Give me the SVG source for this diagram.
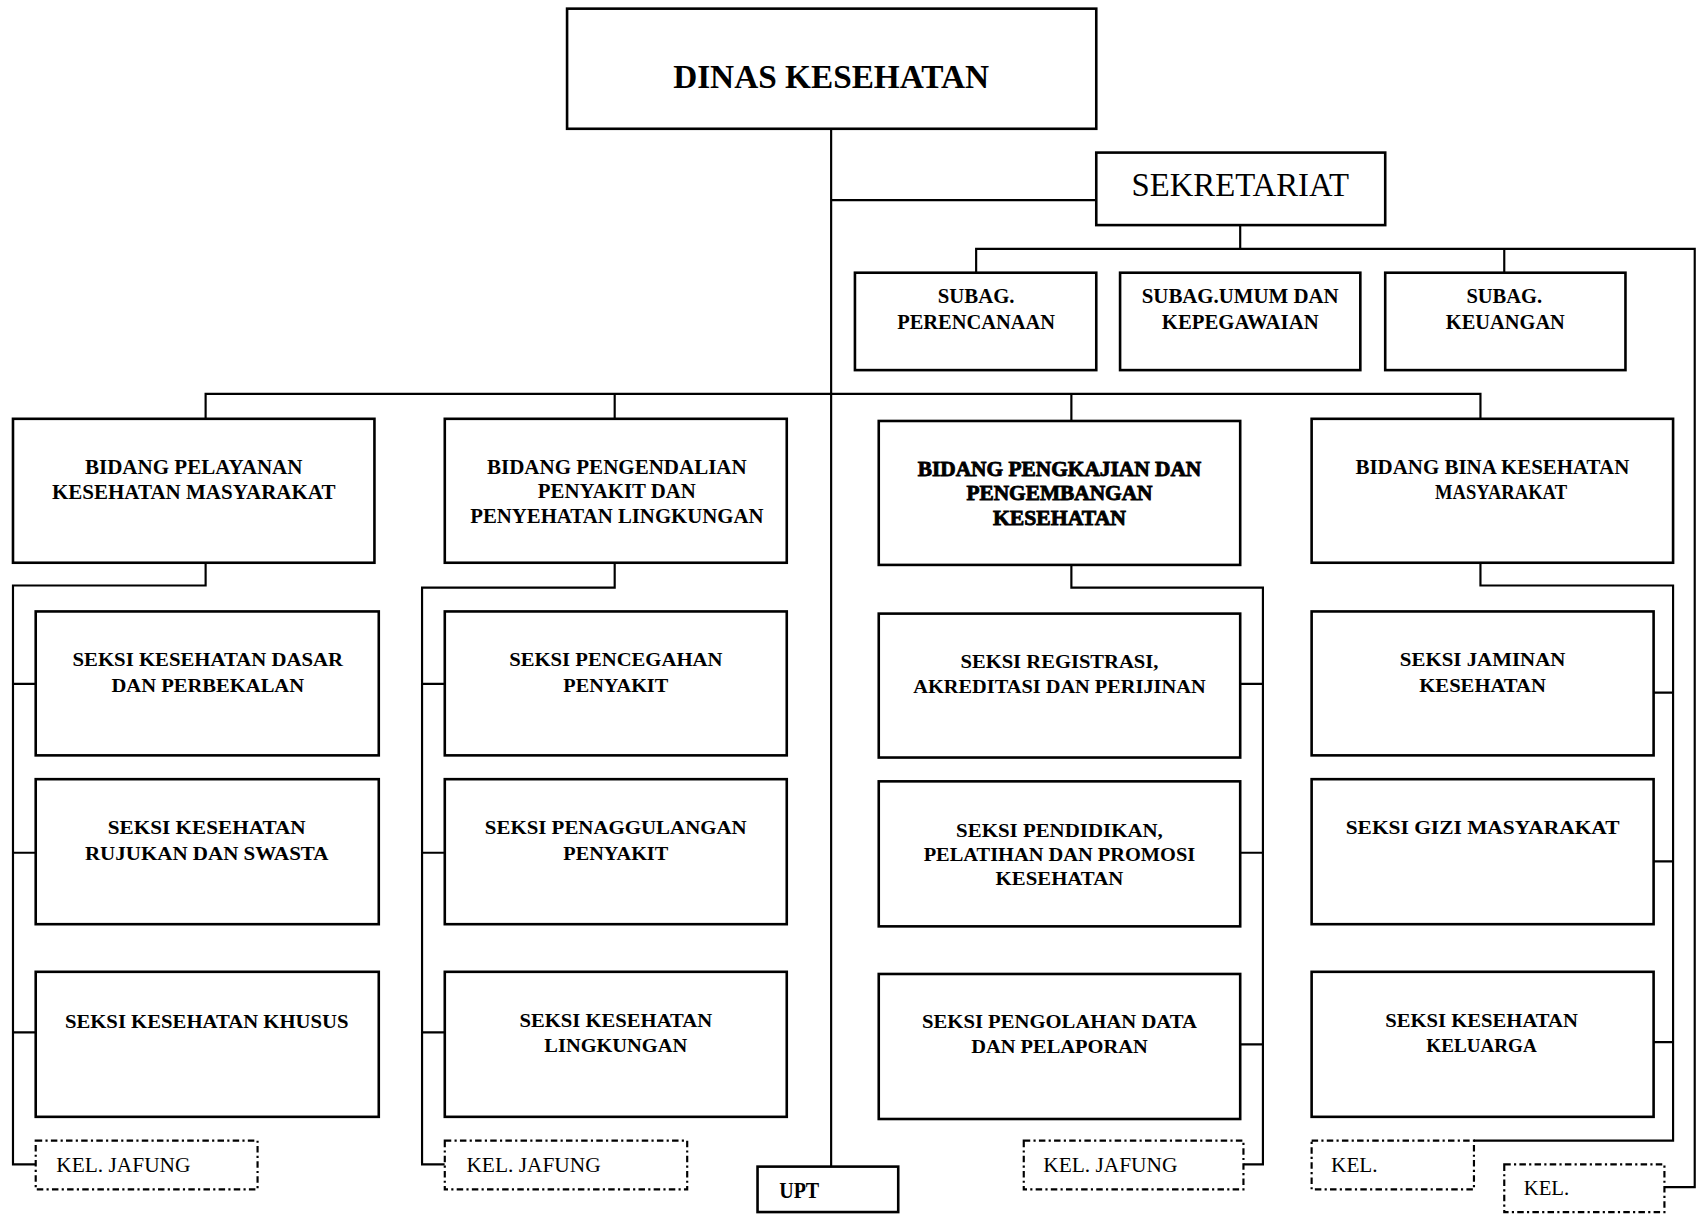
<svg xmlns="http://www.w3.org/2000/svg" width="1697" height="1214" viewBox="0 0 1697 1214">
<style>
.bx{fill:#fff;stroke:#000;stroke-width:2.4}
.kel{fill:#fff;stroke:#000;stroke-width:2;stroke-dasharray:6 3 2 3}
.ln{fill:none;stroke:#000;stroke-width:2}
text{font-family:"Liberation Serif","Times New Roman",serif;fill:#000}
.t{font-size:18px;font-weight:bold;text-anchor:middle}
.tn{font-size:20px;font-weight:bold;text-anchor:middle}
.tb{font-size:20px;font-weight:bold;text-anchor:middle;stroke:#000;stroke-width:0.8}
.h{font-size:31px;font-weight:bold;text-anchor:middle}
.s{font-size:32px;font-weight:normal;text-anchor:middle}
.k{font-size:20px;font-weight:normal}
.u{font-size:22px;font-weight:bold}
</style>
<rect width="1697" height="1214" fill="#fff"/>
<g transform="scale(1.0822)">
<g id="connectors">
<path class="ln" d="M768 119 V1078"/>
<path class="ln" d="M768 185 H1013"/>
<path class="ln" d="M1146 208 V230 M902 252 V230 H1566 V1097 H1538 M1390 230 V252"/>
<path class="ln" d="M190 387 V364 H1368 V387 M568 364 V387 M990 364 V389"/>
<path class="ln" d="M190 520 V541 H12 V1076 H33 M12 632 H33 M12 788 H33 M12 954 H33"/>
<path class="ln" d="M568 520 V543 H390 V1076 H411 M390 632 H411 M390 788 H411 M390 954 H411"/>
<path class="ln" d="M990 522 V543 H1167 V1076 H1149 M1146 632 H1167 M1146 788 H1167 M1146 965 H1167"/>
<path class="ln" d="M1368 520 V541 H1546 V1054 H1362 M1528 640 H1546 M1528 796 H1546 M1528 963 H1546"/>
</g>
<g id="dinas"><rect class="bx" x="524" y="8" width="489" height="111"/><text class="h" x="768" y="81" textLength="292" lengthAdjust="spacingAndGlyphs">DINAS  KESEHATAN</text></g>
<g id="sekretariat"><rect class="bx" x="1013" y="141" width="267" height="67"/><text class="s" x="1146" y="181" textLength="201" lengthAdjust="spacingAndGlyphs">SEKRETARIAT</text></g>
<g id="subag1"><rect class="bx" x="790" y="252" width="223" height="90"/><text class="tn" x="902" y="280" textLength="71" lengthAdjust="spacingAndGlyphs">SUBAG.</text><text class="tn" x="902" y="304" textLength="146" lengthAdjust="spacingAndGlyphs">PERENCANAAN</text></g>
<g id="subag2"><rect class="bx" x="1035" y="252" width="222" height="90"/><text class="tn" x="1146" y="280" textLength="182" lengthAdjust="spacingAndGlyphs">SUBAG.UMUM DAN</text><text class="tn" x="1146" y="304" textLength="145" lengthAdjust="spacingAndGlyphs">KEPEGAWAIAN</text></g>
<g id="subag3"><rect class="bx" x="1280" y="252" width="222" height="90"/><text class="tn" x="1390" y="280" textLength="70" lengthAdjust="spacingAndGlyphs">SUBAG.</text><text class="tn" x="1391" y="304" textLength="110" lengthAdjust="spacingAndGlyphs">KEUANGAN</text></g>
<g id="bidang1"><rect class="bx" x="12" y="387" width="334" height="133"/><text class="tn" x="179" y="438" textLength="201" lengthAdjust="spacingAndGlyphs">BIDANG PELAYANAN</text><text class="tn" x="179" y="461" textLength="262" lengthAdjust="spacingAndGlyphs">KESEHATAN MASYARAKAT</text></g>
<g id="bidang2"><rect class="bx" x="411" y="387" width="316" height="133"/><text class="tn" x="570" y="438" textLength="240" lengthAdjust="spacingAndGlyphs">BIDANG  PENGENDALIAN</text><text class="tn" x="570" y="460" textLength="146" lengthAdjust="spacingAndGlyphs">PENYAKIT DAN</text><text class="tn" x="570" y="483" textLength="271" lengthAdjust="spacingAndGlyphs">PENYEHATAN LINGKUNGAN</text></g>
<g id="bidang3"><rect class="bx" x="812" y="389" width="334" height="133"/><text class="tb" x="979" y="440" textLength="262" lengthAdjust="spacingAndGlyphs">BIDANG PENGKAJIAN DAN</text><text class="tb" x="979" y="462" textLength="172" lengthAdjust="spacingAndGlyphs">PENGEMBANGAN</text><text class="tb" x="979" y="485" textLength="123" lengthAdjust="spacingAndGlyphs">KESEHATAN</text></g>
<g id="bidang4"><rect class="bx" x="1212" y="387" width="334" height="133"/><text class="tn" x="1379" y="438" textLength="253" lengthAdjust="spacingAndGlyphs">BIDANG BINA KESEHATAN</text><text class="tn" x="1387" y="461" textLength="122" lengthAdjust="spacingAndGlyphs">MASYARAKAT</text></g>
<g id="seksi1a"><rect class="bx" x="33" y="565" width="317" height="133"/><text class="t" x="192" y="615" textLength="250" lengthAdjust="spacingAndGlyphs">SEKSI KESEHATAN DASAR</text><text class="t" x="192" y="639" textLength="178" lengthAdjust="spacingAndGlyphs">DAN PERBEKALAN</text></g>
<g id="seksi1b"><rect class="bx" x="33" y="720" width="317" height="134"/><text class="t" x="191" y="771" textLength="183" lengthAdjust="spacingAndGlyphs">SEKSI  KESEHATAN</text><text class="t" x="191" y="795" textLength="225" lengthAdjust="spacingAndGlyphs">RUJUKAN DAN SWASTA</text></g>
<g id="seksi1c"><rect class="bx" x="33" y="898" width="317" height="134"/><text class="t" x="191" y="950" textLength="262" lengthAdjust="spacingAndGlyphs">SEKSI KESEHATAN KHUSUS</text></g>
<g id="kel1"><rect class="kel" x="33" y="1054" width="205" height="45"/><text class="k" x="52" y="1083" textLength="124" lengthAdjust="spacingAndGlyphs">KEL. JAFUNG</text></g>
<g id="seksi2a"><rect class="bx" x="411" y="565" width="316" height="133"/><text class="t" x="569" y="615" textLength="197" lengthAdjust="spacingAndGlyphs">SEKSI  PENCEGAHAN</text><text class="t" x="569" y="639" textLength="97" lengthAdjust="spacingAndGlyphs">PENYAKIT</text></g>
<g id="seksi2b"><rect class="bx" x="411" y="720" width="316" height="134"/><text class="t" x="569" y="771" textLength="242" lengthAdjust="spacingAndGlyphs">SEKSI  PENAGGULANGAN</text><text class="t" x="569" y="795" textLength="97" lengthAdjust="spacingAndGlyphs">PENYAKIT</text></g>
<g id="seksi2c"><rect class="bx" x="411" y="898" width="316" height="134"/><text class="t" x="569" y="949" textLength="178" lengthAdjust="spacingAndGlyphs">SEKSI KESEHATAN</text><text class="t" x="569" y="972" textLength="132" lengthAdjust="spacingAndGlyphs">LINGKUNGAN</text></g>
<g id="kel2"><rect class="kel" x="411" y="1054" width="224" height="45"/><text class="k" x="431" y="1083" textLength="124" lengthAdjust="spacingAndGlyphs">KEL. JAFUNG</text></g>
<g id="seksi3a"><rect class="bx" x="812" y="567" width="334" height="133"/><text class="t" x="979" y="617" textLength="183" lengthAdjust="spacingAndGlyphs">SEKSI  REGISTRASI,</text><text class="t" x="979" y="640" textLength="270" lengthAdjust="spacingAndGlyphs">AKREDITASI DAN PERIJINAN</text></g>
<g id="seksi3b"><rect class="bx" x="812" y="722" width="334" height="134"/><text class="t" x="979" y="773" textLength="191" lengthAdjust="spacingAndGlyphs">SEKSI  PENDIDIKAN,</text><text class="t" x="979" y="796" textLength="251" lengthAdjust="spacingAndGlyphs">PELATIHAN DAN PROMOSI</text><text class="t" x="979" y="818" textLength="118" lengthAdjust="spacingAndGlyphs">KESEHATAN</text></g>
<g id="seksi3c"><rect class="bx" x="812" y="900" width="334" height="134"/><text class="t" x="979" y="950" textLength="254" lengthAdjust="spacingAndGlyphs">SEKSI PENGOLAHAN DATA</text><text class="t" x="979" y="973" textLength="163" lengthAdjust="spacingAndGlyphs">DAN PELAPORAN</text></g>
<g id="kel3"><rect class="kel" x="946" y="1054" width="203" height="45"/><text class="k" x="964" y="1083" textLength="124" lengthAdjust="spacingAndGlyphs">KEL. JAFUNG</text></g>
<g id="seksi4a"><rect class="bx" x="1212" y="565" width="316" height="133"/><text class="t" x="1370" y="615" textLength="153" lengthAdjust="spacingAndGlyphs">SEKSI  JAMINAN</text><text class="t" x="1370" y="639" textLength="117" lengthAdjust="spacingAndGlyphs">KESEHATAN</text></g>
<g id="seksi4b"><rect class="bx" x="1212" y="720" width="316" height="134"/><text class="t" x="1370" y="771" textLength="253" lengthAdjust="spacingAndGlyphs">SEKSI  GIZI  MASYARAKAT</text></g>
<g id="seksi4c"><rect class="bx" x="1212" y="898" width="316" height="134"/><text class="t" x="1369" y="949" textLength="178" lengthAdjust="spacingAndGlyphs">SEKSI KESEHATAN</text><text class="t" x="1369" y="972" textLength="102" lengthAdjust="spacingAndGlyphs">KELUARGA</text></g>
<g id="kel4"><rect class="kel" x="1212" y="1054" width="150" height="45"/><text class="k" x="1230" y="1083" textLength="43" lengthAdjust="spacingAndGlyphs">KEL.</text></g>
<g id="kel5"><rect class="kel" x="1390" y="1076" width="148" height="44"/><text class="k" x="1408" y="1104" textLength="42" lengthAdjust="spacingAndGlyphs">KEL.</text></g>
<g id="upt"><rect class="bx" x="700" y="1078" width="130" height="42"/><text class="u" x="720" y="1107" textLength="37" lengthAdjust="spacingAndGlyphs">UPT</text></g>
</g>
</svg>
